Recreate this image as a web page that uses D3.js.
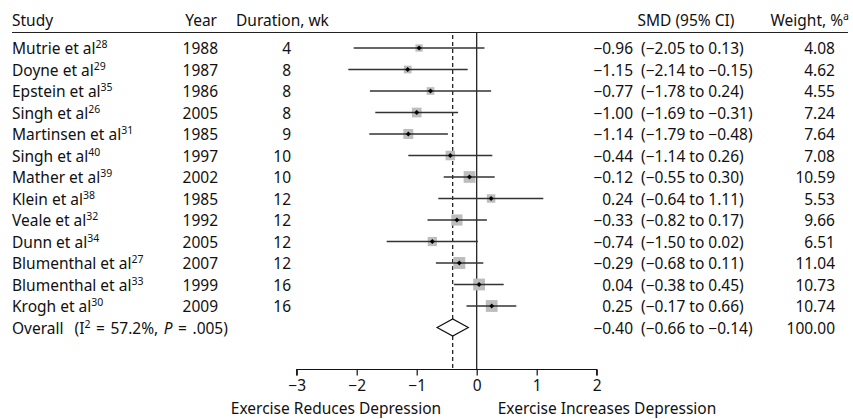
<!DOCTYPE html>
<html><head><meta charset="utf-8">
<script src="https://cdn.jsdelivr.net/npm/d3@7"></script>
<style>
html,body{margin:0;padding:0;background:#fff;}
text{font-family:"Noto Sans",sans-serif;font-size:15.5px;fill:#111;}
</style></head>
<body><svg id="c" width="853" height="419"></svg>
<script>
const studies = ["Mutrie et al","Doyne et al","Epstein et al","Singh et al","Martinsen et al","Singh et al","Mather et al","Klein et al","Veale et al","Dunn et al","Blumenthal et al","Blumenthal et al","Krogh et al"];
const refs = ["28","29","35","26","31","40","39","38","32","34","27","33","30"];
const years = [1988,1987,1986,2005,1985,1997,2002,1985,1992,2005,2007,1999,2009];
const durations = [4,8,8,8,9,10,10,12,12,12,12,16,16];
const smd = [-0.96,-1.15,-0.77,-1.00,-1.14,-0.44,-0.12,0.24,-0.33,-0.74,-0.29,0.04,0.25];
const lower = [-2.05,-2.14,-1.78,-1.69,-1.79,-1.14,-0.55,-0.64,-0.82,-1.50,-0.68,-0.38,-0.17];
const upper = [0.13,-0.15,0.24,-0.31,-0.48,0.26,0.30,1.11,0.17,0.02,0.11,0.45,0.66];
const weights = [4.08,4.62,4.55,7.24,7.64,7.08,10.59,5.53,9.66,6.51,11.04,10.73,10.74];
const overall = {smd:-0.40, lower:-0.66, upper:-0.14, weight:100.00, i2:"57.2%", p:".005"};
const xTicks = [-3,-2,-1,0,1,2];

const svg = d3.select("#c");
const x = d3.scaleLinear().domain([-3,2]).range([296.7,596.7]);
const y = d3.scaleLinear().domain([0,12]).range([48,306]);
const yOverall = 327.5;
const axisY = 369.5;
const f2 = d3.format(".2f");
const supSize = "10.5px";

// header
const hy = 26;
svg.append("text").attr("x",12).attr("y",hy).text("Study");
svg.append("text").attr("x",217).attr("y",hy).attr("text-anchor","end").text("Year");
svg.append("text").attr("x",236).attr("y",hy).text("Duration, wk");
svg.append("text").attr("x",686).attr("y",hy).attr("text-anchor","middle").text("SMD (95% CI)");
const wh = svg.append("text").attr("x",849).attr("y",hy).attr("text-anchor","end");
wh.append("tspan").text("Weight, %");
wh.append("tspan").attr("dy",-6).style("font-size",supSize).text("a");
svg.append("line").attr("x1",12).attr("x2",848).attr("y1",32.5).attr("y2",32.5).attr("stroke","#222").attr("stroke-width",1.2);

// reference lines
svg.append("line").attr("x1",x(0)).attr("x2",x(0)).attr("y1",33).attr("y2",axisY).attr("stroke","#111").attr("stroke-width",1.2);
svg.append("line").attr("x1",x(overall.smd)).attr("x2",x(overall.smd)).attr("y1",35).attr("y2",axisY).attr("stroke","#111").attr("stroke-width",1.2).attr("stroke-dasharray","4,3");

const rows = studies.map((s,i)=>({s,ref:refs[i],year:years[i],dur:durations[i],smd:smd[i],lo:lower[i],hi:upper[i],w:weights[i],i}));
const g = svg.append("g");
rows.forEach(d=>{
  const cy = y(d.i);
  const ty = cy+6;
  const t = g.append("text").attr("x",12).attr("y",ty);
  t.append("tspan").text(d.s);
  t.append("tspan").attr("dy",-6).style("font-size",supSize).text(d.ref);
  g.append("text").attr("x",218).attr("y",ty).attr("text-anchor","end").text(d.year);
  g.append("text").attr("x",291).attr("y",ty).attr("text-anchor","end").text(d.dur);
  g.append("text").attr("x",633).attr("y",ty).attr("text-anchor","end").text(f2(d.smd));
  g.append("text").attr("x",641).attr("y",ty).text("(" + f2(d.lo) + " to " + f2(d.hi) + ")");
  g.append("text").attr("x",835).attr("y",ty).attr("text-anchor","end").text(f2(d.w));
  const side = 3.6*Math.sqrt(d.w);
  g.append("rect").attr("x",x(d.smd)-side/2).attr("y",cy-side/2).attr("width",side).attr("height",side).attr("fill","#bdbdbd");
  g.append("line").attr("x1",x(d.lo)).attr("x2",x(d.hi)).attr("y1",cy).attr("y2",cy).attr("stroke","#333").attr("stroke-width",1.4);
  g.append("path").attr("d",d3.symbol(d3.symbolSquare,12)()).attr("transform",`translate(${x(d.smd)},${cy}) rotate(45)`).attr("fill","#000");
});

// overall
const ot = svg.append("text").attr("x",12).attr("y",yOverall+6).style("word-spacing","1.5px");
ot.append("tspan").text("Overall\u00a0\u00a0(I");
ot.append("tspan").attr("dy",-6).style("font-size",supSize).text("2");
ot.append("tspan").attr("dy",6).text(" = " + overall.i2 + ", ");
ot.append("tspan").style("font-style","italic").text("P");
ot.append("tspan").text(" = " + overall.p + ")");
svg.append("text").attr("x",633).attr("y",yOverall+6).attr("text-anchor","end").text(f2(overall.smd));
svg.append("text").attr("x",641).attr("y",yOverall+6).text("(" + f2(overall.lower) + " to " + f2(overall.upper) + ")");
svg.append("text").attr("x",835).attr("y",yOverall+6).attr("text-anchor","end").text(f2(overall.weight));
svg.append("path").attr("d",`M${x(overall.lower)},${yOverall}L${x(overall.smd)},${yOverall-8.5}L${x(overall.upper)},${yOverall}L${x(overall.smd)},${yOverall+8.5}Z`).attr("fill","#fff").attr("stroke","#111").attr("stroke-width",1.2);

// axis
const ax = svg.append("g").attr("transform",`translate(0,${axisY})`).call(d3.axisBottom(x).tickValues(xTicks).tickSize(6).tickPadding(4).tickFormat(d3.format("d")));
ax.select(".domain").attr("stroke","#111").attr("stroke-width",1.2).attr("d",`M${x(-3)},6V0H${x(2)}V6`);
ax.selectAll(".tick line").attr("stroke","#111").attr("stroke-width",1.2);
ax.selectAll(".tick text").style("font-family","'Noto Sans',sans-serif").style("font-size","15.5px").attr("fill","#111");

svg.append("text").attr("x",336).attr("y",414).attr("text-anchor","middle").text("Exercise Reduces Depression");
svg.append("text").attr("x",607).attr("y",414).attr("text-anchor","middle").text("Exercise Increases Depression");
</script></body></html>
